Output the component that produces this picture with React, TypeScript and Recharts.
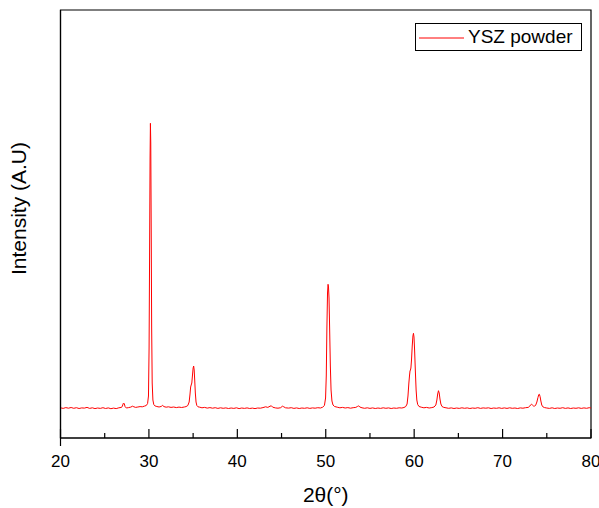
import React from 'react';
import { LineChart, Line, XAxis, YAxis, ReferenceArea, Legend, Label } from 'recharts';

if (typeof document !== 'undefined') {
  document.body.style.margin = '0';
}

const twoTheta: number[] = [
  20.0, 20.3, 20.6, 20.9, 21.2, 21.5, 21.8, 22.1, 22.4, 22.7, 23.0, 23.3, 23.6, 23.9, 24.2, 24.5, 24.8, 25.1, 25.4, 25.7,
  26.0, 26.3, 26.6, 26.9, 27.0, 27.1, 27.15, 27.22, 27.3, 27.45, 27.7, 27.95, 28.15, 28.3, 28.5, 28.75, 29.0, 29.25, 29.5, 29.7,
  29.85, 29.95, 30.02, 30.08, 30.13, 30.17, 30.21, 30.26, 30.31, 30.37, 30.45, 30.55, 30.7, 30.9, 31.15, 31.4, 31.55, 31.7, 31.95, 32.2,
  32.5, 32.8, 33.1, 33.4, 33.7, 34.0, 34.2, 34.4, 34.55, 34.65, 34.72, 34.78, 34.85, 34.92, 35.0, 35.06, 35.12, 35.18, 35.25, 35.33,
  35.42, 35.55, 35.75, 36.0, 36.3, 36.6, 36.9, 37.2, 37.5, 37.8, 38.1, 38.4, 38.7, 39.0, 39.3, 39.6, 39.9, 40.2, 40.5, 40.8,
  41.1, 41.4, 41.7, 42.0, 42.3, 42.6, 42.9, 43.2, 43.45, 43.7, 43.85, 44.0, 44.3, 44.6, 44.9, 45.1, 45.25, 45.45, 45.8, 46.1,
  46.4, 46.7, 47.0, 47.3, 47.6, 47.9, 48.2, 48.5, 48.8, 49.1, 49.4, 49.65, 49.85, 49.98, 50.06, 50.13, 50.2, 50.26, 50.31, 50.37,
  50.44, 50.52, 50.6, 50.7, 50.82, 51.0, 51.3, 51.6, 51.9, 52.2, 52.5, 52.8, 53.1, 53.4, 53.6, 53.72, 53.85, 54.1, 54.4, 54.7,
  55.0, 55.3, 55.6, 55.9, 56.2, 56.5, 56.8, 57.1, 57.4, 57.7, 58.0, 58.3, 58.6, 58.85, 59.05, 59.2, 59.3, 59.4, 59.48, 59.53,
  59.58, 59.63, 59.7, 59.78, 59.86, 59.92, 59.98, 60.05, 60.13, 60.22, 60.3, 60.4, 60.55, 60.8, 61.1, 61.4, 61.7, 62.0, 62.25, 62.45,
  62.57, 62.66, 62.75, 62.83, 62.92, 63.02, 63.15, 63.35, 63.6, 63.9, 64.2, 64.5, 64.8, 65.1, 65.4, 65.7, 66.0, 66.3, 66.6, 66.9,
  67.2, 67.5, 67.8, 68.1, 68.4, 68.7, 69.0, 69.3, 69.6, 69.9, 70.2, 70.5, 70.8, 71.1, 71.4, 71.7, 72.0, 72.3, 72.6, 72.9,
  73.05, 73.18, 73.27, 73.38, 73.5, 73.62, 73.75, 73.88, 74.0, 74.1, 74.16, 74.24, 74.33, 74.43, 74.55, 74.75, 75.0, 75.3, 75.6, 75.9,
  76.2, 76.5, 76.8, 77.1, 77.4, 77.7, 78.0, 78.3, 78.6, 78.9, 79.2, 79.5, 79.8, 80.0,
];

const intensity: number[] = [
  30.2, 29.6, 30.4, 29.8, 30.5, 29.7, 30.3, 29.5, 30.1, 29.9, 30.6, 29.6, 30.2, 29.4, 30.0, 29.6, 30.3, 29.5, 30.1, 29.3,
  29.9, 29.4, 30.2, 30.6, 32.0, 34.5, 35.0, 34.0, 31.5, 30.0, 30.4, 30.9, 31.8, 31.2, 30.6, 31.0, 31.4, 31.2, 31.9, 32.5,
  34.5, 42, 90, 190, 280, 314.7, 295, 210, 110, 55, 38, 33.5, 32.0, 31.5, 31.0, 31.6, 32.6, 31.4, 30.8, 31.2,
  30.6, 31.0, 30.4, 30.9, 30.5, 31.0, 31.4, 32.5, 36, 44, 51, 53, 55, 62, 70, 72, 68, 58, 45, 36,
  32.5, 31.2, 30.8, 30.2, 30.6, 29.9, 30.4, 29.8, 30.3, 29.6, 30.2, 29.7, 30.1, 29.5, 30.0, 29.6, 30.2, 29.4, 30.0, 29.6,
  30.1, 29.5, 29.9, 29.4, 30.0, 29.8, 30.4, 31.2, 30.6, 31.8, 32.2, 30.8, 30.1, 29.8, 30.3, 31.8, 31.2, 30.2, 29.9, 30.3,
  29.6, 30.1, 29.5, 30.0, 29.7, 30.2, 29.6, 30.1, 29.8, 30.3, 30.0, 30.8, 32.5, 40, 62, 110, 145, 153.7, 151, 140,
  110, 72, 48, 37, 33, 31.5, 30.8, 30.2, 30.6, 30.0, 30.4, 29.8, 30.3, 30.6, 31.6, 32.2, 31.0, 30.2, 29.7, 30.2,
  29.6, 30.1, 29.5, 30.0, 29.6, 30.2, 29.7, 30.1, 29.5, 30.0, 29.7, 30.2, 30.0, 30.5, 31.5, 34, 42, 55, 63, 67,
  68, 70, 78, 92, 102, 104.7, 101, 88, 68, 48, 38, 33.5, 31.5, 30.8, 30.2, 30.6, 30.0, 30.4, 31.0, 33,
  38, 44, 47.3, 45, 39, 34, 31.5, 30.6, 30.2, 29.7, 30.1, 29.5, 30.0, 29.6, 30.2, 29.7, 30.1, 29.5, 30.0, 29.7,
  30.3, 29.6, 30.1, 29.8, 30.2, 29.5, 30.0, 29.7, 30.2, 29.6, 30.1, 29.6, 30.2, 29.7, 30.0, 29.5, 30.1, 29.8, 30.3, 30.6,
  31.6, 33.2, 33.7, 33.0, 32.0, 31.8, 33, 36, 40.5, 43.5, 43.7, 41.5, 37, 33, 31.2, 30.4, 30.0, 29.6, 30.2, 29.5,
  30.0, 29.7, 30.3, 29.6, 30.1, 29.5, 30.0, 29.7, 30.2, 29.6, 30.1, 29.7, 30.3, 30.0,
];

const xTicks: number[] = [20, 25, 30, 35, 40, 45, 50, 55, 60, 65, 70, 75, 80];
const majorTicks: number[] = [20, 30, 40, 50, 60, 70, 80];
const seriesName = 'YSZ powder';
const xLabel = '2θ(°)';
const yLabel = 'Intensity (A.U)';

const data = twoTheta.map((t, i) => ({ t, v: intensity[i] }));

const FONT = '"Liberation Sans", Arial, sans-serif';

const XTick = (props: any) => {
  const { x, y, payload } = props;
  const v = payload.value;
  const major = majorTicks.includes(v);
  return (
    <g>
      <line x1={x} x2={x} y1={y} y2={y - (major ? 9 : 5)} stroke="#000" strokeWidth={1.2} />
      {v === xTicks[0] && <line x1={x} x2={x} y1={y} y2={y + 8} stroke="#000" strokeWidth={1.2} />}
      {major && (
        <text x={x} y={y + 28.5} textAnchor="middle" fontSize={17} fontFamily={FONT} fill="#000">
          {v}
        </text>
      )}
    </g>
  );
};

const renderYLabel = (props: any) => {
  const vb = props.viewBox || {};
  const cx = (vb.x ?? 0) + 18;
  const cy = (vb.y ?? 0) + (vb.height ?? 0) / 2 - 15.5;
  return (
    <text
      x={cx}
      y={cy}
      transform={`rotate(-90, ${cx}, ${cy})`}
      textAnchor="middle"
      dominantBaseline="central"
      fontSize={21}
      fontFamily={FONT}
      fill="#000"
    >
      {yLabel}
    </text>
  );
};

const renderXLabel = (props: any) => {
  const vb = props.viewBox || {};
  const cx = (vb.x ?? 0) + (vb.width ?? 0) / 2;
  const cy = (vb.y ?? 0) + 64;
  return (
    <text x={cx} y={cy} textAnchor="middle" fontSize={21} fontFamily={FONT} fill="#000">
      {xLabel}
    </text>
  );
};

const renderLegend = () => (
  <div
    style={{
      width: 165,
      height: 26,
      border: '1px solid #000',
      background: '#fff',
      display: 'flex',
      alignItems: 'center',
      fontFamily: FONT,
      fontSize: 19,
      color: '#000',
      boxSizing: 'content-box',
    }}
  >
    <svg width={52} height={26} style={{ display: 'block' }}>
      <line x1={3} x2={48} y1={14} y2={14} stroke="#ff0000" strokeWidth={1} />
    </svg>
    <span style={{ lineHeight: '26px', whiteSpace: 'nowrap' }}>{seriesName}</span>
  </div>
);

export default function App() {
  return (
    <div style={{ background: '#fff', width: 599, height: 508 }}>
      <LineChart width={599} height={508} data={data} margin={{ top: 10, right: 8, left: 0, bottom: 0 }}>
        <XAxis
          type="number"
          dataKey="t"
          domain={[20, 80]}
          ticks={xTicks}
          interval={0}
          allowDataOverflow
          height={70}
          tickSize={0}
          tickMargin={0}
          tickLine={false}
          tick={<XTick />}
          axisLine={{ stroke: '#000', strokeWidth: 1.2 }}
        >
          <Label content={renderXLabel} />
        </XAxis>
        <YAxis
          type="number"
          domain={[0, 428]}
          allowDataOverflow
          width={60.5}
          tick={false}
          tickLine={false}
          axisLine={{ stroke: '#000', strokeWidth: 1.2 }}
        >
          <Label content={renderYLabel} />
        </YAxis>
        <ReferenceArea x1={20} x2={80} y1={0} y2={428} fill="none" stroke="#000" strokeWidth={1.2} ifOverflow="visible" />
        <Line
          type="linear"
          dataKey="v"
          name={seriesName}
          stroke="#ff0000"
          strokeWidth={1}
          dot={false}
          isAnimationActive={false}
        />
        <Legend
          layout="vertical"
          align="center"
          verticalAlign="middle"
          content={renderLegend}
          wrapperStyle={{ left: 415, top: 23, width: 'auto' }}
        />
      </LineChart>
    </div>
  );
}
